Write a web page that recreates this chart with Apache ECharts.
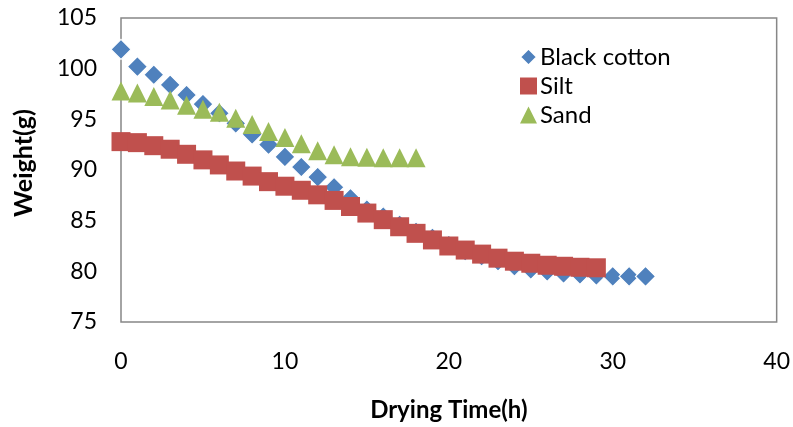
<!DOCTYPE html>
<html>
<head>
<meta charset="utf-8">
<script src="https://cdn.jsdelivr.net/npm/echarts@6/dist/echarts.min.js"></script>
<style>
html,body{margin:0;padding:0;background:#fff;}
#c{width:793px;height:427px;}
</style>
</head>
<body>
<div id="c"></div>
<script>
const blackCottonHours = [0,1,2,3,4,5,6,7,8,9,10,11,12,13,14,15,16,17,18,19,20,21,22,23,24,25,26,27,28,29,30,31,32];
const blackCottonWeight = [101.9,100.2,99.4,98.4,97.4,96.5,95.6,94.6,93.5,92.5,91.3,90.3,89.3,88.3,87.2,86.1,85.4,84.6,83.9,83.3,82.6,82.0,81.5,81.0,80.5,80.2,80.0,79.8,79.7,79.6,79.5,79.5,79.5];
const siltHours = [0,1,2,3,4,5,6,7,8,9,10,11,12,13,14,15,16,17,18,19,20,21,22,23,24,25,26,27,28,29];
const siltWeight = [92.8,92.7,92.4,92.05,91.55,91.0,90.5,89.9,89.4,88.85,88.4,88.0,87.55,87.0,86.4,85.75,85.1,84.4,83.75,83.1,82.5,82.1,81.7,81.3,81.0,80.8,80.6,80.5,80.4,80.35];
const sandHours = [0,1,2,3,4,5,6,7,8,9,10,11,12,13,14,15,16,17,18];
const sandWeight = [97.8,97.6,97.25,96.9,96.4,96.0,95.7,95.1,94.5,93.8,93.2,92.6,91.9,91.5,91.3,91.25,91.2,91.2,91.2];
const seriesNames = ['Black cotton','Silt','Sand'];
const xTitle = 'Drying Time(h)';
const yTitle = 'Weight(g)';

function pairs(xs, ys){ return xs.map((x,i)=>[x, ys[i]]); }

const FONT = 'Lato, "Open Sans", sans-serif';
const chart = echarts.init(document.getElementById('c'), null, {renderer:'canvas'});
chart.setOption({
  animation: false,
  backgroundColor: '#fff',
  grid: {left:121, right:14, top:18, bottom:105, show:true, borderColor:'#878787', borderWidth:1.5, backgroundColor:'transparent'},
  xAxis: {
    type:'value', min:0, max:40, interval:10,
    name: xTitle, nameLocation:'middle', nameGap:76,
    nameTextStyle:{fontFamily:FONT, fontSize:24, fontWeight:'bold', color:'#000'},
    axisLine:{show:false}, axisTick:{show:false}, splitLine:{show:false},
    axisLabel:{fontFamily:FONT, fontSize:23, color:'#000', margin:28}
  },
  yAxis: {
    type:'value', min:75, max:105, interval:5,
    name: yTitle, nameLocation:'middle', nameGap:85, nameRotate:90,
    nameTextStyle:{fontFamily:FONT, fontSize:25, fontWeight:'bold', color:'#000', padding:[0,0,0,14]},
    axisLine:{show:false}, axisTick:{show:false}, splitLine:{show:false},
    axisLabel:{fontFamily:FONT, fontSize:23, color:'#000', margin:24}
  },
  legend: {
    orient:'vertical', left:514, top:40, itemWidth:17, itemHeight:17, itemGap:5,
    textStyle:{fontFamily:FONT, fontSize:24, color:'#000', padding:[0,0,0,-2]},
    data: seriesNames
  },
  series: [
    {name:seriesNames[0], type:'scatter', symbol:'diamond', symbolSize:20,
     itemStyle:{color:'#4F81BD', borderColor:'#fff', borderWidth:1.2, opacity:1},
     data: pairs(blackCottonHours, blackCottonWeight)},
    {name:seriesNames[1], type:'scatter', symbol:'rect', symbolSize:19,
     itemStyle:{color:'#C0504D', opacity:1},
     data: pairs(siltHours, siltWeight)},
    {name:seriesNames[2], type:'scatter', symbol:'triangle', symbolSize:[19,19],
     itemStyle:{color:'#9BBB59', opacity:1},
     data: pairs(sandHours, sandWeight)}
  ]
});
</script>
</body>
</html>
